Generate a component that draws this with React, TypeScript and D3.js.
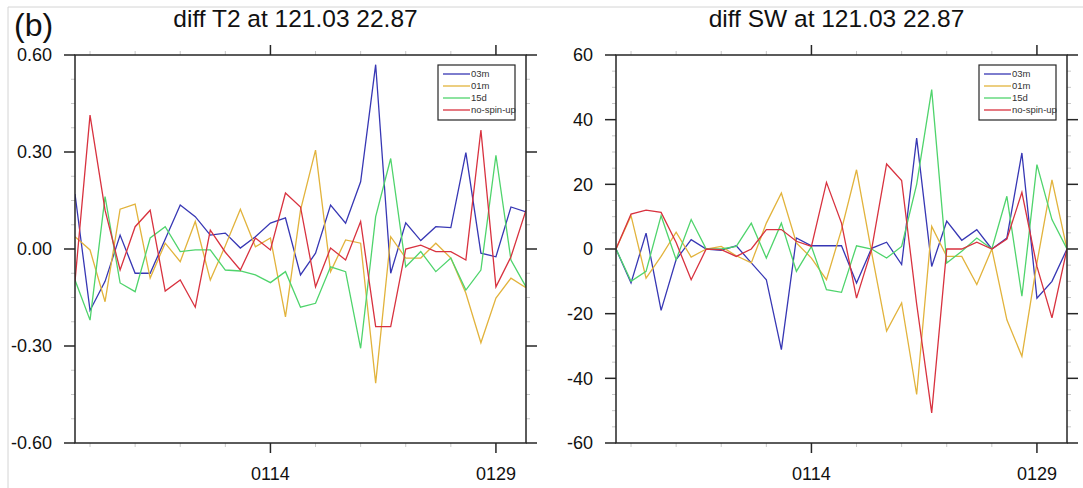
import React from "react";
import * as d3 from "d3";

const days = d3.range(31); // Jan 1 .. Jan 31
const xMajorTicks = [13, 28];
const xMajorLabels = ["0114", "0129"];
const xMinorTicks = [1, 4, 7, 10, 16, 19, 22, 25];

const seriesNames = ["03m", "01m", "15d", "no-spin-up"];
const seriesColors = ["#3737b4", "#e2b33c", "#4fd46c", "#d8323f"];

const t2_03m = [0.17, -0.19, -0.10, 0.043, -0.075, -0.075, 0.03, 0.136, 0.10, 0.043, 0.049, 0.003, 0.038, 0.08, 0.096, -0.08, -0.013, 0.136, 0.08, 0.208, 0.57, -0.075, 0.081, 0.026, 0.069, 0.066, 0.298, -0.013, -0.024, 0.13, 0.115];
const t2_01m = [0.038, -0.003, -0.163, 0.123, 0.139, -0.09, 0.018, -0.039, 0.085, -0.096, 0.01, 0.123, 0.007, 0.034, -0.21, 0.12, 0.306, -0.07, 0.028, 0.018, -0.415, 0.038, -0.028, -0.028, 0.018, -0.028, -0.137, -0.29, -0.152, -0.09, -0.12];
const t2_15d = [-0.096, -0.22, 0.162, -0.105, -0.132, 0.034, 0.069, -0.008, -0.003, -0.003, -0.065, -0.068, -0.08, -0.104, -0.07, -0.18, -0.168, -0.055, -0.07, -0.307, 0.1, 0.28, -0.055, -0.008, -0.07, -0.028, -0.127, -0.065, 0.29, -0.034, -0.117];
const t2_nsu = [-0.1, 0.414, 0.12, -0.065, 0.069, 0.12, -0.13, -0.096, -0.18, 0.058, -0.01, -0.065, 0.034, -0.003, 0.173, 0.13, -0.117, 0.003, -0.034, 0.085, -0.24, -0.24, 0.0, 0.012, -0.008, -0.008, -0.034, 0.368, -0.117, -0.024, 0.12];

const sw_03m = [0, -10.5, 4.9, -19, -3.3, 2.9, 0, -0.4, 1.0, -4.3, -9.5, -31.1, 3.4, 1.0, 1.0, 1.0, -10.5, 0.2, 2.1, -4.8, 34.3, -5.4, 8.6, 2.7, 6.0, 0, 3.4, 29.7, -15.2, -10, 0];
const sw_01m = [0, 10.3, -9, -2.3, 5.2, -2.5, 0, 0.8, -2.1, -4.3, 8.0, 17.3, 1.9, -2.8, -9.5, 6, 24.5, -1, -25.4, -16.7, -45, 7.0, -2.3, -2.3, -11, 0, -21.9, -33.2, -4.3, 21.4, 0];
const sw_15d = [0, -10, -6.9, 10.3, -3.3, 9.1, 0, 0, 0.8, 8.0, -2.8, 8.0, -6.9, 0.8, -12.6, -13.4, 1.0, 0, -2.8, 0.8, 20, 49.3, -4.3, -0.7, 3.4, 0, 16.3, -14.6, 26.1, 9.1, 0];
const sw_nsu = [0, 10.8, 12, 11.3, 2, -9.5, 0, -0.2, -2.3, 0, 6.0, 6.0, 2.4, 0.8, 20.6, 8.0, -15.2, -0.2, 26.3, 21.2, -17, -50.7, 0, 0, 2.1, 0, 3.1, 17.5, -5.4, -21.3, 0];

const t2Ticks = [0.6, 0.3, 0, -0.3, -0.6];
const t2TickLabels = ["0.60", "0.30", "0.00", "-0.30", "-0.60"];
const swTicks = [60, 40, 20, 0, -20, -40, -60];
const swTickLabels = ["60", "40", "20", "0", "-20", "-40", "-60"];

const FONT = "'Liberation Sans', Arial, Helvetica, sans-serif";
const AX = "#262626";
const MINOR = "#c8c8c8";

type PanelProps = {
  x0: number;
  title: string;
  series: number[][];
  domain: [number, number];
  ticks: number[];
  tickLabels: string[];
  minorStep: number;
};

function Panel({ x0, title, series, domain, ticks, tickLabels, minorStep }: PanelProps) {
  const y0 = 55;
  const w = 451;
  const h = 388;
  const x = d3.scaleLinear().domain([0, 30]).range([x0, x0 + w]);
  const y = d3.scaleLinear().domain(domain).range([y0 + h, y0]);
  const line = d3
    .line<number>()
    .x((_, i) => x(days[i]))
    .y((d) => y(d));
  const yMinor = d3
    .range(domain[0], domain[1] + minorStep / 2, minorStep)
    .filter((v) => !ticks.some((t) => Math.abs(t - v) < minorStep / 10));
  const lx = x0 + w - 88;
  const ly = 65;
  return (
    <g>
      <text x={x0 + w / 2 - 5} y={27} textAnchor="middle" fontSize={24.5} fontFamily={FONT} fill="#111">
        {title}
      </text>
      <clipPath id={"clip" + x0}>
        <rect x={x0} y={y0} width={w} height={h} />
      </clipPath>
      <g clipPath={`url(#clip${x0})`}>
        {series.map((s, k) => (
          <path key={k} d={line(s) || ""} fill="none" stroke={seriesColors[k]} strokeWidth={1.3} strokeLinejoin="miter" />
        ))}
      </g>
      {/* minor ticks */}
      {xMinorTicks.map((t) => (
        <g key={"xm" + t}>
          <line x1={x(t)} x2={x(t)} y1={y0} y2={y0 - 4} stroke={MINOR} strokeWidth={1} />
          <line x1={x(t)} x2={x(t)} y1={y0 + h} y2={y0 + h + 4} stroke={MINOR} strokeWidth={1} />
        </g>
      ))}
      {yMinor.map((v, i) => (
        <g key={"ym" + i}>
          <line x1={x0} x2={x0 - 4} y1={y(v)} y2={y(v)} stroke={MINOR} strokeWidth={1} />
          <line x1={x0 + w} x2={x0 + w + 4} y1={y(v)} y2={y(v)} stroke={MINOR} strokeWidth={1} />
        </g>
      ))}
      {/* frame */}
      <rect x={x0} y={y0} width={w} height={h} fill="none" stroke={AX} strokeWidth={1.5} />
      {/* major x ticks */}
      {xMajorTicks.map((t, i) => (
        <g key={"xt" + t}>
          <line x1={x(t)} x2={x(t)} y1={y0} y2={y0 - 10} stroke={AX} strokeWidth={1.5} />
          <line x1={x(t)} x2={x(t)} y1={y0 + h} y2={y0 + h + 10} stroke={AX} strokeWidth={1.5} />
          <text x={x(t)} y={480} textAnchor="middle" fontSize={18} fontFamily={FONT} fill="#111">
            {xMajorLabels[i]}
          </text>
        </g>
      ))}
      {/* major y ticks */}
      {ticks.map((v, i) => (
        <g key={"yt" + i}>
          <line x1={x0} x2={x0 - 11} y1={y(v)} y2={y(v)} stroke={AX} strokeWidth={1.5} />
          <line x1={x0 + w} x2={x0 + w + 11} y1={y(v)} y2={y(v)} stroke={AX} strokeWidth={1.5} />
          <text x={x0 - 23} y={y(v)} dy="0.36em" textAnchor="end" fontSize={18} fontFamily={FONT} fill="#111">
            {tickLabels[i]}
          </text>
        </g>
      ))}
      {/* legend */}
      <rect x={lx} y={ly} width={77} height={55} fill="#fff" stroke={AX} strokeWidth={1.2} />
      {seriesNames.map((n, k) => (
        <g key={n}>
          <line x1={lx + 5} x2={lx + 32} y1={ly + 9 + k * 12} y2={ly + 9 + k * 12} stroke={seriesColors[k]} strokeWidth={1.3} />
          <text x={lx + 33} y={ly + 9 + k * 12} dy="0.35em" fontSize={9.5} fontFamily={FONT} fill="#333">
            {n}
          </text>
        </g>
      ))}
    </g>
  );
}

export default function App() {
  return (
    <svg width={1083} height={488} style={{ position: "absolute", left: 0, top: 0, background: "#fff" }}>
      <rect x={0} y={0} width={1083} height={488} fill="#fff" />
      <line x1={8} x2={1083} y1={7} y2={7} stroke="#d4d4d4" strokeWidth={1} />
      <line x1={8} x2={8} y1={7} y2={488} stroke="#d4d4d4" strokeWidth={1} />
      <text x={14} y={36} fontSize={32} fontFamily={FONT} fill="#111">
        (b)
      </text>
      <Panel
        x0={75}
        title="diff T2 at 121.03 22.87"
        series={[t2_03m, t2_01m, t2_15d, t2_nsu]}
        domain={[-0.6, 0.6]}
        ticks={t2Ticks}
        tickLabels={t2TickLabels}
        minorStep={0.075}
      />
      <Panel
        x0={616}
        title="diff SW at 121.03 22.87"
        series={[sw_03m, sw_01m, sw_15d, sw_nsu]}
        domain={[-60, 60]}
        ticks={swTicks}
        tickLabels={swTickLabels}
        minorStep={5}
      />
    </svg>
  );
}
